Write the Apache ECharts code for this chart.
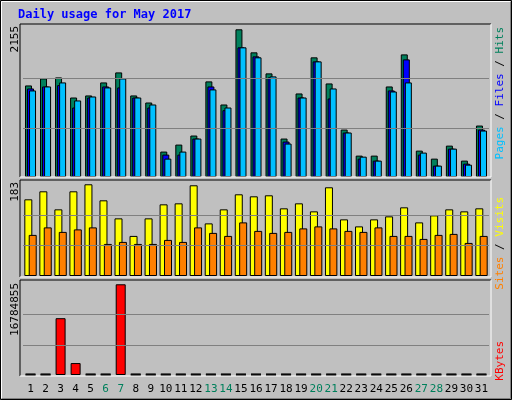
<!DOCTYPE html>
<html>
<head>
<meta charset="utf-8">
<script src="https://cdn.jsdelivr.net/npm/echarts@6/dist/echarts.min.js"></script>
<style>
  html, body { margin: 0; padding: 0; background: #c0c0c0; }
  #main { width: 512px; height: 400px; }
</style>
</head>
<body>
<div id="main"></div>
<script>
// values
const days = ['1','2','3','4','5','6','7','8','9','10','11','12','13','14','15','16','17','18','19','20','21','22','23','24','25','26','27','28','29','30','31'];
const weekendDays = ['6','7','13','14','20','21','27','28'];
const hits = [1336,1438,1453,1160,1190,1380,1526,1190,1087,371,473,605,1395,1058,2155,1819,1512,561,1219,1746,1365,692,312,312,1321,1789,385,268,458,239,751];
const files = [1292,1321,1341,1014,1160,1321,1307,1160,1014,327,327,561,1321,975,1892,1760,1453,517,1160,1687,1146,649,268,239,1263,1716,327,166,414,195,692];
const pages = [1263,1321,1380,1117,1175,1307,1438,1160,1058,268,371,561,1278,1014,1892,1746,1468,488,1160,1687,1292,649,297,239,1248,1380,356,166,414,180,678];
const visits = [153,169,133,169,183,151,115,80,115,143,145,181,105,133,163,159,161,135,145,129,177,113,99,113,119,137,107,121,133,129,135];
const sites = [82,97,88,93,97,64,68,64,64,72,68,97,86,80,107,90,86,88,95,99,95,90,88,97,80,80,74,82,84,66,80];
const kbytes = [0,0,10510000,2210000,0,0,16784855,0,0,0,0,0,0,0,0,0,0,0,0,0,0,0,0,0,0,0,0,0,0,0,0];
const maxHits = 2155, maxVisits = 183, maxKB = 16784855;

const font = '"DejaVu Sans Mono", monospace';
const chart = echarts.init(document.getElementById('main'));

// Webalizer-style sunken panel
function panel(y, h) {
    return [
        { type: 'rect', shape: { x: 20, y: y, width: 471, height: h }, style: { fill: '#c0c0c0' }, z: -1 },
        { type: 'polyline', shape: { points: [[20, y + h], [20, y], [491, y]] }, style: { stroke: '#000', lineWidth: 1, fill: null }, z: 5 },
        { type: 'polyline', shape: { points: [[491, y], [491, y + h], [20, y + h]] }, style: { stroke: '#fff', lineWidth: 1, fill: null }, z: 5 }
    ];
}
function upText(x, y, text, color, rich) {
    return {
        type: 'text', x: x, y: y, rotation: Math.PI / 2, z: 10,
        style: { text: text, fill: color, font: '11px ' + font, align: 'right', verticalAlign: 'middle', rich: rich }
    };
}
function gridLines(max) {
    return {
        silent: true, symbol: 'none', label: { show: false },
        lineStyle: { color: '#808080', type: 'solid', width: 1 },
        data: [{ yAxis: max / 3 }, { yAxis: max * 2 / 3 }]
    };
}
const grids = [
    { left: 23, width: 466, top: 24, height: 153 },
    { left: 23, width: 466, top: 180, height: 96 },
    { left: 23, width: 466, top: 280, height: 95 }
];
const xAxes = grids.map((g, i) => ({
    type: 'category', gridIndex: i, data: days,
    axisLine: { show: false }, axisTick: { show: false },
    axisLabel: i === 2 ? {
        show: true, interval: 0, margin: 9, fontFamily: font, fontSize: 11,
        color: (v) => weekendDays.includes(v) ? '#00805c' : '#000'
    } : { show: false }
}));
const yMax = [maxHits * 152.7 / 147.4, maxVisits * 96.3 / 92, maxKB * 95.3 / 91];
const yAxes = yMax.map((m, i) => ({
    type: 'value', gridIndex: i, min: 0, max: m,
    axisLine: { show: false }, axisTick: { show: false }, axisLabel: { show: false }, splitLine: { show: false }
}));
const bar = (name, data, color, axis, w, gap, extra) => Object.assign({
    type: 'bar', name: name, data: data, xAxisIndex: axis, yAxisIndex: axis,
    barWidth: w, barGap: gap, animation: false,
    itemStyle: { color: color, borderColor: '#000', borderWidth: 1 }
}, extra || {});

chart.setOption({
    backgroundColor: '#c0c0c0',
    animation: false,
    grid: grids,
    xAxis: xAxes,
    yAxis: yAxes,
    series: [
        bar('Hits', hits, '#00805c', 0, 7, '-71%', { markLine: gridLines(maxHits) }),
        bar('Files', files, '#0000ff', 0, 7, '-71%'),
        bar('Pages', pages, '#00c0ff', 0, 7, '-71%'),
        bar('Visits', visits, '#ffff00', 1, 8, '-45%', { markLine: gridLines(maxVisits) }),
        bar('Sites', sites, '#ff8000', 1, 8, '-45%'),
        bar('KBytes', kbytes, '#ff0000', 2, 10, '0%', { markLine: gridLines(maxKB) }),
        {
            type: 'scatter', xAxisIndex: 2, yAxisIndex: 2, symbol: 'rect', symbolSize: [10, 2],
            itemStyle: { color: '#000' }, z: 6,
            data: kbytes.map((v, i) => v === 0 ? [days[i], maxKB * 0.008] : null).filter(Boolean)
        }
    ],
    graphic: [].concat(
        [
            { type: 'rect', shape: { x: 0.5, y: 0.5, width: 511, height: 399 }, style: { fill: null, stroke: '#000', lineWidth: 1 } },
            { type: 'polyline', shape: { points: [[1.5, 398], [1.5, 1.5], [510, 1.5]] }, style: { stroke: '#fff', lineWidth: 1, fill: null } },
            { type: 'polyline', shape: { points: [[510.5, 2], [510.5, 398.5], [2, 398.5]] }, style: { stroke: '#808080', lineWidth: 1, fill: null } },
            { type: 'text', x: 18, y: 9, style: { text: 'Daily usage for May 2017', fill: '#0000ff', font: 'bold 12px ' + font } }
        ],
        panel(24, 153), panel(180, 97), panel(280, 96),
        [
            upText(15, 26, String(maxHits), '#000'),
            upText(15, 182, String(maxVisits), '#000'),
            upText(15, 283, String(maxKB), '#000'),
            upText(500, 27, '{p|Pages}{s| / }{f|Files}{s| / }{h|Hits}', '#000', {
                p: { fill: '#00c0ff', font: '11px ' + font }, f: { fill: '#0000ff', font: '11px ' + font },
                h: { fill: '#00805c', font: '11px ' + font }, s: { fill: '#000', font: '11px ' + font }
            }),
            upText(500, 197, '{si|Sites}{s| / }{v|Visits}', '#000', {
                si: { fill: '#ff8000', font: '11px ' + font }, v: { fill: '#ffff00', font: '11px ' + font },
                s: { fill: '#000', font: '11px ' + font }
            }),
            upText(500, 341, 'KBytes', '#ff0000')
        ]
    )
});
</script>
</body>
</html>
